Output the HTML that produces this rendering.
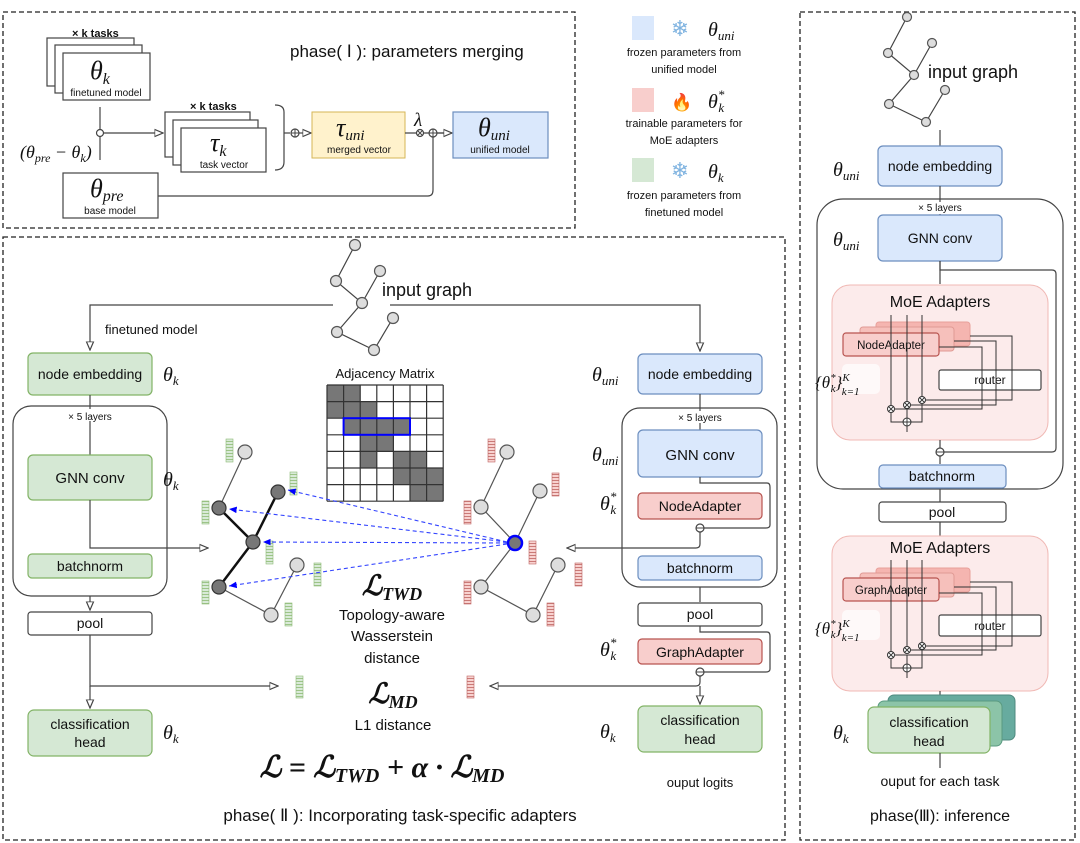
<!DOCTYPE html>
<html><head><meta charset="utf-8"><style>
html,body{margin:0;padding:0;background:#fff}
svg{display:block}
text{font-family:"Liberation Sans","DejaVu Sans",sans-serif;fill:#111}
.m{font-family:"Liberation Serif",serif;font-style:italic}
.mb{font-family:"Liberation Serif",serif;font-style:italic;font-weight:bold}
.l{stroke:#444;stroke-width:1.2;fill:none}
.g{fill:#d5e8d4;stroke:#82b366;stroke-width:1.2}
.b{fill:#dae8fc;stroke:#6c8ebf;stroke-width:1.2}
.r{fill:#f8cecc;stroke:#b85450;stroke-width:1.2}
.w{fill:#fff;stroke:#444;stroke-width:1.2}
.dash{fill:none;stroke:#222;stroke-width:1.3;stroke-dasharray:5,3}
.ln{fill:#ddd;stroke:#555;stroke-width:1.2}
.dn{fill:#777;stroke:#333;stroke-width:1.2}
</style></head><body>
<svg width="1080" height="843" viewBox="0 0 1080 843" xmlns="http://www.w3.org/2000/svg">
<defs>
<marker id="a" markerWidth="8" markerHeight="8" refX="7" refY="4" orient="auto"><path d="M0,1 L7,4 L0,7 Z" fill="#fff" stroke="#444" stroke-width="1"/></marker>
<marker id="ab" markerWidth="8" markerHeight="8" refX="7" refY="4" orient="auto"><path d="M0,1 L7,4 L0,7 Z" fill="#00f"/></marker>
<pattern id="pg" width="7" height="3" patternUnits="userSpaceOnUse"><rect width="7" height="3" fill="#d5e8d4"/><line x1="0" y1="0.5" x2="7" y2="0.5" stroke="#82b366" stroke-width="0.8"/></pattern>
<pattern id="pr" width="7" height="3" patternUnits="userSpaceOnUse"><rect width="7" height="3" fill="#f8cecc"/><line x1="0" y1="0.5" x2="7" y2="0.5" stroke="#b85450" stroke-width="0.8"/></pattern>
</defs>

<rect x="3" y="12" width="572" height="216" class="dash"/>
<rect x="3" y="237" width="782" height="603" class="dash"/>
<rect x="800" y="12" width="275" height="828" class="dash"/>

<!-- PHASE I -->
<text x="72" y="37" font-size="11" font-weight="bold">× k tasks</text>
<rect x="47" y="38" width="87" height="48" class="w"/>
<rect x="55" y="45" width="87" height="48" class="w"/>
<rect x="63" y="53" width="87" height="47" class="w"/>
<text x="90" y="79" class="m" font-size="26">θ<tspan font-size="16" dy="5">k</tspan></text>
<text x="106" y="96" font-size="10" text-anchor="middle">finetuned model</text>
<text x="290" y="57" font-size="17">phase( Ⅰ ):  parameters merging</text>
<line x1="100" y1="107" x2="100" y2="160" class="l"/>
<circle cx="100" cy="133" r="3.5" class="w"/>
<text x="20" y="158" class="m" font-size="18">(θ<tspan font-size="12" dy="4">pre</tspan><tspan dy="-4"> − θ</tspan><tspan font-size="12" dy="4">k</tspan><tspan dy="-4">)</tspan></text>
<line x1="104" y1="133" x2="163" y2="133" class="l" marker-end="url(#a)"/>
<text x="190" y="110" font-size="11" font-weight="bold">× k tasks</text>
<rect x="165" y="112" width="85" height="45" class="w"/>
<rect x="173" y="120" width="85" height="45" class="w"/>
<rect x="181" y="128" width="85" height="44" class="w"/>
<text x="210" y="151" class="m" font-size="26">τ<tspan font-size="16" dy="5">k</tspan></text>
<text x="224" y="168" font-size="10" text-anchor="middle">task vector</text>
<path d="M275,105 Q284,105 284,112 L284,162 Q284,170 275,170" class="l"/>
<line x1="284" y1="133" x2="290" y2="133" class="l"/>
<circle cx="295" cy="133" r="4" class="w"/><path d="M291,133h8M295,129v8" stroke="#444"/>
<line x1="299" y1="133" x2="311" y2="133" class="l" marker-end="url(#a)"/>
<rect x="312" y="112" width="93" height="46" fill="#fff2cc" stroke="#d6b656"/>
<text x="336" y="136" class="m" font-size="26">τ<tspan font-size="15" dy="4">uni</tspan></text>
<text x="359" y="153" font-size="10" text-anchor="middle">merged vector</text>
<text x="414" y="126" class="m" font-size="19">λ</text>
<line x1="405" y1="133" x2="450" y2="133" class="l"/>
<circle cx="420" cy="133" r="3.5" class="w"/><path d="M417.5,130.5l5,5M422.5,130.5l-5,5" stroke="#444"/>
<circle cx="433" cy="133" r="4" class="w"/><path d="M429,133h8M433,129v8" stroke="#444"/>
<line x1="437" y1="133" x2="452" y2="133" class="l" marker-end="url(#a)"/>
<rect x="453" y="112" width="95" height="46" class="b"/>
<text x="478" y="136" class="m" font-size="26">θ<tspan font-size="15" dy="4">uni</tspan></text>
<text x="500" y="153" font-size="10" text-anchor="middle" fill="#335">unified model</text>
<rect x="63" y="173" width="95" height="45" class="w"/>
<text x="90" y="197" class="m" font-size="26">θ<tspan font-size="16" dy="4">pre</tspan></text>
<text x="110" y="214" font-size="10" text-anchor="middle">base model</text>
<path d="M158,196 L428,196 Q433,196 433,190 L433,137" class="l"/>

<!-- LEGEND -->
<rect x="632" y="16" width="22" height="24" fill="#dae8fc"/>
<text x="680" y="36" font-size="22" text-anchor="middle" style="fill:#7fb3e0">❄</text>
<text x="708" y="36" class="m" font-size="20">θ<tspan font-size="13" dy="4">uni</tspan></text>
<text x="684" y="56" font-size="11" text-anchor="middle">frozen parameters from</text>
<text x="684" y="73" font-size="11" text-anchor="middle">unified model</text>
<rect x="632" y="88" width="22" height="24" fill="#f8cecc"/>
<text x="682" y="108" font-size="17" text-anchor="middle" style="fill:#e8641e">🔥</text>
<text x="708" y="108" class="m" font-size="20">θ<tspan font-size="13" dy="-9">*</tspan><tspan font-size="13" dx="-6" dy="13">k</tspan></text>
<text x="684" y="127" font-size="11" text-anchor="middle">trainable parameters for</text>
<text x="684" y="144" font-size="11" text-anchor="middle">MoE adapters</text>
<rect x="632" y="158" width="22" height="24" fill="#d5e8d4"/>
<text x="680" y="178" font-size="22" text-anchor="middle" style="fill:#7fb3e0">❄</text>
<text x="708" y="178" class="m" font-size="20">θ<tspan font-size="13" dy="4">k</tspan></text>
<text x="684" y="199" font-size="11" text-anchor="middle">frozen parameters from</text>
<text x="684" y="216" font-size="11" text-anchor="middle">finetuned model</text>

<!-- PHASE II input graph -->
<g transform="translate(-552,228)">
<path d="M907,17 L888,53 L914,75 L932,43 M914,75 L889,104 L926,122 L945,90" class="l"/>
<g class="ln"><circle cx="907" cy="17" r="5.5"/><circle cx="932" cy="43" r="5.5"/><circle cx="888" cy="53" r="5.5"/><circle cx="914" cy="75" r="5.5"/><circle cx="945" cy="90" r="5.5"/><circle cx="889" cy="104" r="5.5"/><circle cx="926" cy="122" r="5.5"/></g>
</g>
<text x="382" y="296" font-size="18">input graph</text>
<path d="M333,305 L90,305 L90,350" class="l" marker-end="url(#a)"/>
<path d="M390,305 L700,305 L700,351" class="l" marker-end="url(#a)"/>
<text x="105" y="334" font-size="13">finetuned model</text>

<rect x="28" y="353" width="124" height="42" rx="5" class="g"/>
<text x="90" y="379" font-size="14" text-anchor="middle">node embedding</text>
<text x="163" y="381" class="m" font-size="20">θ<tspan font-size="13" dy="4">k</tspan></text>
<line x1="90" y1="395" x2="90" y2="455" class="l"/>
<rect x="13" y="406" width="154" height="190" rx="18" fill="none" stroke="#444" stroke-width="1.2"/>
<rect x="75" y="409" width="32" height="12" fill="#fff"/>
<text x="90" y="420" font-size="10" text-anchor="middle">× 5 layers</text>
<rect x="28" y="455" width="124" height="45" rx="5" class="g"/>
<text x="90" y="483" font-size="15" text-anchor="middle">GNN conv</text>
<text x="163" y="486" class="m" font-size="20">θ<tspan font-size="13" dy="4">k</tspan></text>
<path d="M90,500 L90,548 L208,548" class="l" marker-end="url(#a)"/>
<rect x="28" y="554" width="124" height="24" rx="4" class="g"/>
<text x="90" y="571" font-size="14" text-anchor="middle">batchnorm</text>
<line x1="90" y1="596" x2="90" y2="610" class="l" marker-end="url(#a)"/>
<rect x="28" y="612" width="124" height="23" rx="3" class="w"/>
<text x="90" y="628" font-size="14" text-anchor="middle">pool</text>
<path d="M90,635 L90,686 L278,686" class="l" marker-end="url(#a)"/>
<line x1="90" y1="686" x2="90" y2="708" class="l" marker-end="url(#a)"/>
<rect x="28" y="710" width="124" height="46" rx="6" class="g"/>
<text x="90" y="729" font-size="14" text-anchor="middle">classification</text>
<text x="90" y="747" font-size="14" text-anchor="middle">head</text>
<text x="163" y="739" class="m" font-size="20">θ<tspan font-size="13" dy="4">k</tspan></text>

<text x="385" y="378" font-size="13" text-anchor="middle">Adjacency Matrix</text>
<g fill="#777">
<rect x="327" y="385" width="33.2" height="16.6"/>
<rect x="327" y="401.6" width="49.8" height="16.6"/>
<rect x="343.6" y="418.2" width="66.4" height="16.6"/>
<rect x="360.2" y="434.8" width="33.2" height="16.6"/>
<rect x="360.2" y="451.4" width="16.6" height="16.6"/>
<rect x="393.4" y="451.4" width="33.2" height="16.6"/>
<rect x="393.4" y="468" width="49.8" height="16.6"/>
<rect x="410" y="484.6" width="33.2" height="16.6"/>
</g>
<g stroke="#333" stroke-width="1.2">
<line x1="327" y1="385" x2="327" y2="501.2"/><line x1="343.6" y1="385" x2="343.6" y2="501.2"/><line x1="360.2" y1="385" x2="360.2" y2="501.2"/><line x1="376.8" y1="385" x2="376.8" y2="501.2"/><line x1="393.4" y1="385" x2="393.4" y2="501.2"/><line x1="410" y1="385" x2="410" y2="501.2"/><line x1="426.6" y1="385" x2="426.6" y2="501.2"/><line x1="443.2" y1="385" x2="443.2" y2="501.2"/>
<line x1="327" y1="385" x2="443.2" y2="385"/><line x1="327" y1="401.6" x2="443.2" y2="401.6"/><line x1="327" y1="418.2" x2="443.2" y2="418.2"/><line x1="327" y1="434.8" x2="443.2" y2="434.8"/><line x1="327" y1="451.4" x2="443.2" y2="451.4"/><line x1="327" y1="468" x2="443.2" y2="468"/><line x1="327" y1="484.6" x2="443.2" y2="484.6"/><line x1="327" y1="501.2" x2="443.2" y2="501.2"/>
</g>
<rect x="343.6" y="418.2" width="66.4" height="16.6" fill="none" stroke="#00f" stroke-width="2"/>

<path d="M245,452 L219,508 M219,587 L271,615 L297,565" stroke="#555" stroke-width="1.2" fill="none"/>
<path d="M219,508 L253,542 L278,492 M253,542 L219,587" stroke="#111" stroke-width="2.5" fill="none"/>
<g class="ln"><circle cx="245" cy="452" r="7"/><circle cx="297" cy="565" r="7"/><circle cx="271" cy="615" r="7"/></g>
<g class="dn"><circle cx="219" cy="508" r="7"/><circle cx="253" cy="542" r="7"/><circle cx="278" cy="492" r="7"/><circle cx="219" cy="587" r="7"/></g>
<g fill="url(#pg)" stroke="#82b366" stroke-width="0.6" opacity="0.9">
<rect x="226" y="439" width="7" height="23"/><rect x="290" y="472" width="7" height="23"/><rect x="202" y="501" width="7" height="23"/><rect x="266" y="541" width="7" height="23"/><rect x="314" y="563" width="7" height="23"/><rect x="202" y="581" width="7" height="23"/><rect x="285" y="603" width="7" height="23"/><rect x="296" y="676" width="7" height="22"/>
</g>
<path d="M507,452 L481,507 L515,543 L540,491 M515,543 L481,587 L533,615 L558,565" stroke="#555" stroke-width="1.2" fill="none"/>
<g class="ln"><circle cx="507" cy="452" r="7"/><circle cx="540" cy="491" r="7"/><circle cx="481" cy="507" r="7"/><circle cx="481" cy="587" r="7"/><circle cx="558" cy="565" r="7"/><circle cx="533" cy="615" r="7"/></g>
<circle cx="515" cy="543" r="7" fill="#777" stroke="#00f" stroke-width="2.5"/>
<g fill="url(#pr)" stroke="#b85450" stroke-width="0.6" opacity="0.9">
<rect x="488" y="439" width="7" height="23"/><rect x="552" y="473" width="7" height="23"/><rect x="464" y="501" width="7" height="23"/><rect x="529" y="541" width="7" height="23"/><rect x="575" y="563" width="7" height="23"/><rect x="464" y="581" width="7" height="23"/><rect x="547" y="603" width="7" height="23"/><rect x="467" y="676" width="7" height="22"/>
</g>
<g stroke="#3344ff" stroke-width="1.1" stroke-dasharray="4,3" fill="none">
<line x1="507" y1="542" x2="288" y2="490" marker-end="url(#ab)"/>
<line x1="507" y1="542" x2="229" y2="509" marker-end="url(#ab)"/>
<line x1="507" y1="543" x2="263" y2="542" marker-end="url(#ab)"/>
<line x1="507" y1="544" x2="229" y2="586" marker-end="url(#ab)"/>
</g>

<text x="392" y="595" class="mb" font-size="28" text-anchor="middle">ℒ<tspan font-size="18" dy="5">TWD</tspan></text>
<text x="392" y="620" font-size="15" text-anchor="middle">Topology-aware</text>
<text x="392" y="641" font-size="15" text-anchor="middle">Wasserstein</text>
<text x="392" y="663" font-size="15" text-anchor="middle">distance</text>
<text x="393" y="703" class="mb" font-size="28" text-anchor="middle">ℒ<tspan font-size="18" dy="5">MD</tspan></text>
<text x="393" y="730" font-size="15" text-anchor="middle">L1 distance</text>
<text x="382" y="777" class="mb" font-size="30" text-anchor="middle">ℒ = ℒ<tspan font-size="20" dy="5">TWD</tspan><tspan dy="-5"> + α · ℒ</tspan><tspan font-size="20" dy="5">MD</tspan></text>
<text x="400" y="821" font-size="17" text-anchor="middle">phase( Ⅱ ):  Incorporating task-specific adapters</text>

<text x="592" y="381" class="m" font-size="20">θ<tspan font-size="13" dy="4">uni</tspan></text>
<rect x="638" y="354" width="124" height="40" rx="5" class="b"/>
<text x="700" y="379" font-size="14" text-anchor="middle">node embedding</text>
<line x1="700" y1="394" x2="700" y2="430" class="l"/>
<rect x="622" y="408" width="155" height="179" rx="18" fill="none" stroke="#444" stroke-width="1.2"/>
<rect x="684" y="411" width="32" height="12" fill="#fff"/>
<text x="700" y="421" font-size="10" text-anchor="middle">× 5 layers</text>
<text x="592" y="461" class="m" font-size="20">θ<tspan font-size="13" dy="4">uni</tspan></text>
<rect x="638" y="430" width="124" height="47" rx="5" class="b"/>
<text x="700" y="460" font-size="15" text-anchor="middle">GNN conv</text>
<text x="600" y="510" class="m" font-size="20">θ<tspan font-size="13" dy="-9">*</tspan><tspan font-size="13" dx="-6" dy="13">k</tspan></text>
<path d="M700,477 L700,483 L767,483 Q770,483 770,487 L770,525 Q770,528 766,528 L704,528" class="l"/>
<rect x="638" y="493" width="124" height="26" rx="4" class="r"/>
<text x="700" y="511" font-size="14" text-anchor="middle">NodeAdapter</text>
<circle cx="700" cy="528" r="4" class="w"/><path d="M696,528h8" stroke="#444"/>
<path d="M700,532 L700,544 Q700,548 696,548 L567,548" class="l" marker-end="url(#a)"/>
<rect x="638" y="556" width="124" height="24" rx="4" class="b"/>
<text x="700" y="573" font-size="14" text-anchor="middle">batchnorm</text>
<line x1="700" y1="587" x2="700" y2="602" class="l"/>
<rect x="638" y="603" width="124" height="23" rx="3" class="w"/>
<text x="700" y="619" font-size="14" text-anchor="middle">pool</text>
<text x="600" y="656" class="m" font-size="20">θ<tspan font-size="13" dy="-9">*</tspan><tspan font-size="13" dx="-6" dy="13">k</tspan></text>
<path d="M700,626 L700,632 L767,632 Q770,632 770,636 L770,669 Q770,672 766,672 L704,672" class="l"/>
<rect x="638" y="639" width="124" height="25" rx="4" class="r"/>
<text x="700" y="657" font-size="14" text-anchor="middle">GraphAdapter</text>
<circle cx="700" cy="672" r="4" class="w"/><path d="M696,672h8" stroke="#444"/>
<path d="M700,676 L700,682 Q700,686 696,686 L490,686" class="l" marker-end="url(#a)"/>
<line x1="700" y1="686" x2="700" y2="704" class="l" marker-end="url(#a)"/>
<rect x="638" y="706" width="124" height="46" rx="6" class="g"/>
<text x="700" y="725" font-size="14" text-anchor="middle">classification</text>
<text x="700" y="744" font-size="14" text-anchor="middle">head</text>
<text x="600" y="738" class="m" font-size="20">θ<tspan font-size="13" dy="4">k</tspan></text>
<text x="700" y="787" font-size="13" text-anchor="middle">ouput logits</text>

<!-- PHASE III -->
<path d="M907,17 L888,53 L914,75 L932,43 M914,75 L889,104 L926,122 L945,90" class="l"/>
<g class="ln"><circle cx="907" cy="17" r="4.5"/><circle cx="932" cy="43" r="4.5"/><circle cx="888" cy="53" r="4.5"/><circle cx="914" cy="75" r="4.5"/><circle cx="945" cy="90" r="4.5"/><circle cx="889" cy="104" r="4.5"/><circle cx="926" cy="122" r="4.5"/></g>
<text x="928" y="78" font-size="18">input graph</text>
<line x1="940" y1="130" x2="940" y2="148" class="l"/>
<text x="833" y="176" class="m" font-size="20">θ<tspan font-size="13" dy="4">uni</tspan></text>
<rect x="878" y="146" width="124" height="40" rx="5" class="b"/>
<text x="940" y="171" font-size="14" text-anchor="middle">node embedding</text>
<line x1="940" y1="186" x2="940" y2="218" class="l"/>
<rect x="817" y="199" width="246" height="290" rx="26" fill="none" stroke="#444" stroke-width="1.2"/>
<rect x="920" y="202" width="40" height="12" fill="#fff"/>
<text x="940" y="211" font-size="10" text-anchor="middle">× 5 layers</text>
<text x="833" y="246" class="m" font-size="20">θ<tspan font-size="13" dy="4">uni</tspan></text>
<rect x="878" y="215" width="124" height="46" rx="5" class="b"/>
<text x="940" y="243" font-size="14" text-anchor="middle">GNN conv</text>
<path d="M940,261 L940,270 L1052,270 Q1056,270 1056,274 L1056,448 Q1056,452 1052,452 L944,452" class="l"/>
<line x1="940" y1="261" x2="940" y2="284" class="l"/>
<rect x="832" y="285" width="216" height="155" rx="18" fill="#f8cecc" fill-opacity="0.4" stroke="#f0b8b4" stroke-width="1"/>
<text x="940" y="307" font-size="16" text-anchor="middle">MoE Adapters</text>
<rect x="876" y="322" width="94" height="24" rx="3" fill="#f5b5b0" stroke="#e8a09a" stroke-width="1"/>
<rect x="860" y="327" width="94" height="24" rx="3" fill="#f6c0bb" stroke="#e09a94" stroke-width="1"/>
<rect x="843" y="333" width="96" height="23" rx="3" class="r"/>
<text x="891" y="349" font-size="11.5" text-anchor="middle">NodeAdapter</text>
<rect x="842" y="364" width="38" height="30" rx="5" fill="#fff" fill-opacity="0.7"/>
<text x="815" y="388" class="m" font-size="17">{θ<tspan font-size="11" dy="-7">*</tspan><tspan font-size="11" dx="-5" dy="11">k</tspan><tspan dy="-4">}</tspan><tspan font-size="11" dy="-7">K</tspan><tspan font-size="11" dx="-8" dy="14">k=1</tspan></text>
<rect x="939" y="370" width="102" height="20" rx="2" class="w"/>
<text x="990" y="384" font-size="12" text-anchor="middle">router</text>
<g stroke="#333" stroke-width="1" fill="none">
<line x1="891" y1="315" x2="891" y2="409"/><line x1="907" y1="315" x2="907" y2="405"/><line x1="922" y1="315" x2="922" y2="400"/>
<path d="M970,336 L1012,336 L1012,400 L926,400"/>
<path d="M954,341 L996,341 L996,405 L911,405"/>
<path d="M939,347 L982,347 L982,409 L895,409"/>
<path d="M891,413 L891,422 L922,422 L922,404"/>
<line x1="907" y1="409" x2="907" y2="432"/>
</g>
<g fill="#fff" stroke="#333" stroke-width="1"><circle cx="891" cy="409" r="3.5"/><circle cx="907" cy="405" r="3.5"/><circle cx="922" cy="400" r="3.5"/><circle cx="907" cy="422" r="4"/></g>
<path d="M888.5,406.5l5,5M893.5,406.5l-5,5M904.5,402.5l5,5M909.5,402.5l-5,5M919.5,397.5l5,5M924.5,397.5l-5,5M903,422h8M907,418v8" stroke="#333" stroke-width="0.9"/>
<line x1="940" y1="440" x2="940" y2="464" class="l"/>
<circle cx="940" cy="452" r="4" class="w"/><path d="M936,452h8" stroke="#444"/>
<rect x="879" y="465" width="127" height="23" rx="4" class="b"/>
<text x="942" y="481" font-size="14" text-anchor="middle">batchnorm</text>
<line x1="940" y1="489" x2="940" y2="502" class="l"/>
<rect x="879" y="502" width="127" height="20" rx="3" class="w"/>
<text x="942" y="517" font-size="14" text-anchor="middle">pool</text>
<line x1="940" y1="522" x2="940" y2="536" class="l"/>
<rect x="832" y="536" width="216" height="155" rx="18" fill="#f8cecc" fill-opacity="0.4" stroke="#f0b8b4" stroke-width="1"/>
<text x="940" y="553" font-size="16" text-anchor="middle">MoE Adapters</text>
<rect x="876" y="568" width="94" height="24" rx="3" fill="#f5b5b0" stroke="#e8a09a" stroke-width="1"/>
<rect x="860" y="573" width="94" height="24" rx="3" fill="#f6c0bb" stroke="#e09a94" stroke-width="1"/>
<rect x="843" y="578" width="96" height="23" rx="3" class="r"/>
<text x="891" y="594" font-size="11.5" text-anchor="middle">GraphAdapter</text>
<rect x="842" y="610" width="38" height="30" rx="5" fill="#fff" fill-opacity="0.7"/>
<text x="815" y="634" class="m" font-size="17">{θ<tspan font-size="11" dy="-7">*</tspan><tspan font-size="11" dx="-5" dy="11">k</tspan><tspan dy="-4">}</tspan><tspan font-size="11" dy="-7">K</tspan><tspan font-size="11" dx="-8" dy="14">k=1</tspan></text>
<rect x="939" y="615" width="102" height="21" rx="2" class="w"/>
<text x="990" y="630" font-size="12" text-anchor="middle">router</text>
<g stroke="#333" stroke-width="1" fill="none">
<line x1="891" y1="560" x2="891" y2="655"/><line x1="907" y1="560" x2="907" y2="650"/><line x1="922" y1="560" x2="922" y2="646"/>
<path d="M970,582 L1012,582 L1012,646 L926,646"/>
<path d="M954,587 L996,587 L996,650 L911,650"/>
<path d="M939,593 L982,593 L982,655 L895,655"/>
<path d="M891,659 L891,668 L922,668 L922,650"/>
<line x1="907" y1="655" x2="907" y2="678"/>
</g>
<g fill="#fff" stroke="#333" stroke-width="1"><circle cx="891" cy="655" r="3.5"/><circle cx="907" cy="650" r="3.5"/><circle cx="922" cy="646" r="3.5"/><circle cx="907" cy="668" r="4"/></g>
<path d="M888.5,652.5l5,5M893.5,652.5l-5,5M904.5,647.5l5,5M909.5,647.5l-5,5M919.5,643.5l5,5M924.5,643.5l-5,5M903,668h8M907,664v8" stroke="#333" stroke-width="0.9"/>
<line x1="940" y1="691" x2="940" y2="706" class="l"/>
<rect x="888" y="695" width="127" height="45" rx="6" fill="#67ab9f" stroke="#4f8a7f"/>
<rect x="878" y="701" width="124" height="45" rx="6" fill="#8cc4a8" stroke="#5a9a80"/>
<rect x="868" y="707" width="122" height="46" rx="6" class="g"/>
<text x="929" y="727" font-size="14" text-anchor="middle">classification</text>
<text x="929" y="746" font-size="14" text-anchor="middle">head</text>
<text x="833" y="739" class="m" font-size="20">θ<tspan font-size="13" dy="4">k</tspan></text>
<line x1="940" y1="753" x2="940" y2="768" class="l"/>
<text x="940" y="786" font-size="14" text-anchor="middle">ouput for each task</text>
<text x="940" y="821" font-size="16" text-anchor="middle">phase(Ⅲ):  inference</text>
</svg>
</body></html>
